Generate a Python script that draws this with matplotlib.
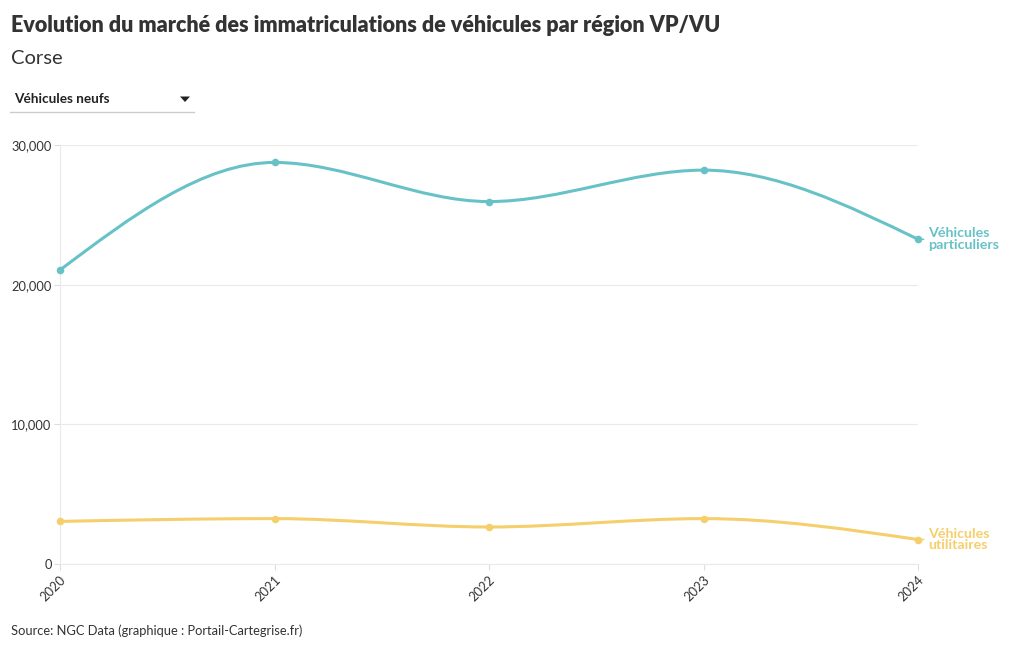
import numpy as np
import matplotlib
matplotlib.use("Agg")
import matplotlib.pyplot as plt
from matplotlib.path import Path
from matplotlib.patches import PathPatch, Polygon

plt.rcParams['font.family'] = ['Lato', 'DejaVu Sans']

years = [2020, 2021, 2022, 2023, 2024]
vp = [21050, 28750, 25950, 28200, 23250]
vu = [3050, 3250, 2650, 3250, 1750]
series_names = ["Véhicules\nparticuliers", "Véhicules\nutilitaires"]
colors = ["#67c2c7", "#f5cf6b"]
yticks = [0, 10000, 20000, 30000]

W, H = 1020, 650
fig = plt.figure(figsize=(W / 100, H / 100), dpi=100)
ax = fig.add_axes([60 / W, (H - 564) / H, (918 - 60) / W, (564 - 145) / H])


def monotone_path(x, y):
    x = np.asarray(x, float)
    y = np.asarray(y, float)
    n = len(x)
    h = np.diff(x)
    s = np.diff(y) / h
    t = np.zeros(n)
    for i in range(1, n - 1):
        s0, s1 = s[i - 1], s[i]
        p = (s0 * h[i] + s1 * h[i - 1]) / (h[i - 1] + h[i])
        t[i] = (np.sign(s0) + np.sign(s1)) * min(abs(s0), abs(s1), 0.5 * abs(p))
    t[0] = (3 * s[0] - t[1]) / 2
    t[-1] = (3 * s[-1] - t[-2]) / 2
    verts = [(x[0], y[0])]
    codes = [Path.MOVETO]
    for i in range(n - 1):
        dx = h[i] / 3
        verts += [(x[i] + dx, y[i] + dx * t[i]),
                  (x[i + 1] - dx, y[i + 1] - dx * t[i + 1]),
                  (x[i + 1], y[i + 1])]
        codes += [Path.CURVE4] * 3
    return Path(verts, codes)


for vals, c, name in zip([vp, vu], colors, series_names):
    patch = PathPatch(monotone_path(years, vals), fill=False, edgecolor=c, lw=2.2,
                      capstyle='round', joinstyle='round', zorder=3)
    ax.add_patch(patch)
    ax.scatter(years, vals, s=30, color=c, zorder=4, clip_on=False, linewidths=0)
    ax.annotate("", xy=(years[-1] + 0.018, vals[-1]), xytext=(years[-1] + 0.04, vals[-1]),
                arrowprops=dict(arrowstyle='-', color=c, lw=1), annotation_clip=False)
    ax.text(years[-1] + 0.048, vals[-1], name, color=c, fontsize=10.3, fontweight='bold',
            va='center', ha='left', linespacing=0.98)

ax.set_xlim(2020, 2024)
ax.set_ylim(0, 30000)
ax.set_yticks(yticks)
ax.set_yticklabels([f"{v:,}" for v in yticks])
ax.set_xticks(years)
ax.set_xticklabels([str(y) for y in years], rotation=45, ha='right', rotation_mode='anchor')
ax.grid(axis='y', color='#eaeaea', lw=0.8)
ax.grid(axis='x', visible=False)
for sp in ['top', 'right']:
    ax.spines[sp].set_visible(False)
ax.spines['left'].set_color('#eaeaea')
ax.spines['bottom'].set_color('#eaeaea')
ax.tick_params(axis='both', colors='#dddddd', labelcolor='#333333', labelsize=9.3, length=4, width=0.8)
ax.tick_params(axis='y', length=4, pad=2)
ax.tick_params(axis='x', pad=3)
ax.set_axisbelow(True)

fig.text(11 / W, 1 - 25 / H, "Evolution du marché des immatriculations de véhicules par région VP/VU",
         fontsize=15.5, fontweight='heavy', color='#333333', va='center', ha='left')
fig.text(11 / W, 1 - 58 / H, "Corse", fontsize=14.5, color='#333333', va='center', ha='left')
fig.text(14 / W, 1 - 99 / H, "Véhicules neufs", fontsize=9.8, fontweight='bold', color='#222222',
         va='center', ha='left')
fig.add_artist(Polygon([[180 / W, 1 - 96.5 / H], [190 / W, 1 - 96.5 / H], [185 / W, 1 - 102 / H]],
                       closed=True, transform=fig.transFigure, facecolor='#222222', edgecolor='none'))
fig.add_artist(plt.Line2D([10 / W, 194 / W], [1 - 112 / H, 1 - 112 / H], color='#cccccc', lw=1))
fig.text(11 / W, 1 - 631 / H, "Source: NGC Data (graphique : Portail-Cartegrise.fr)", fontsize=9.3,
         color='#333333', va='center', ha='left')

fig.savefig("out.png", dpi=100, facecolor='white')
